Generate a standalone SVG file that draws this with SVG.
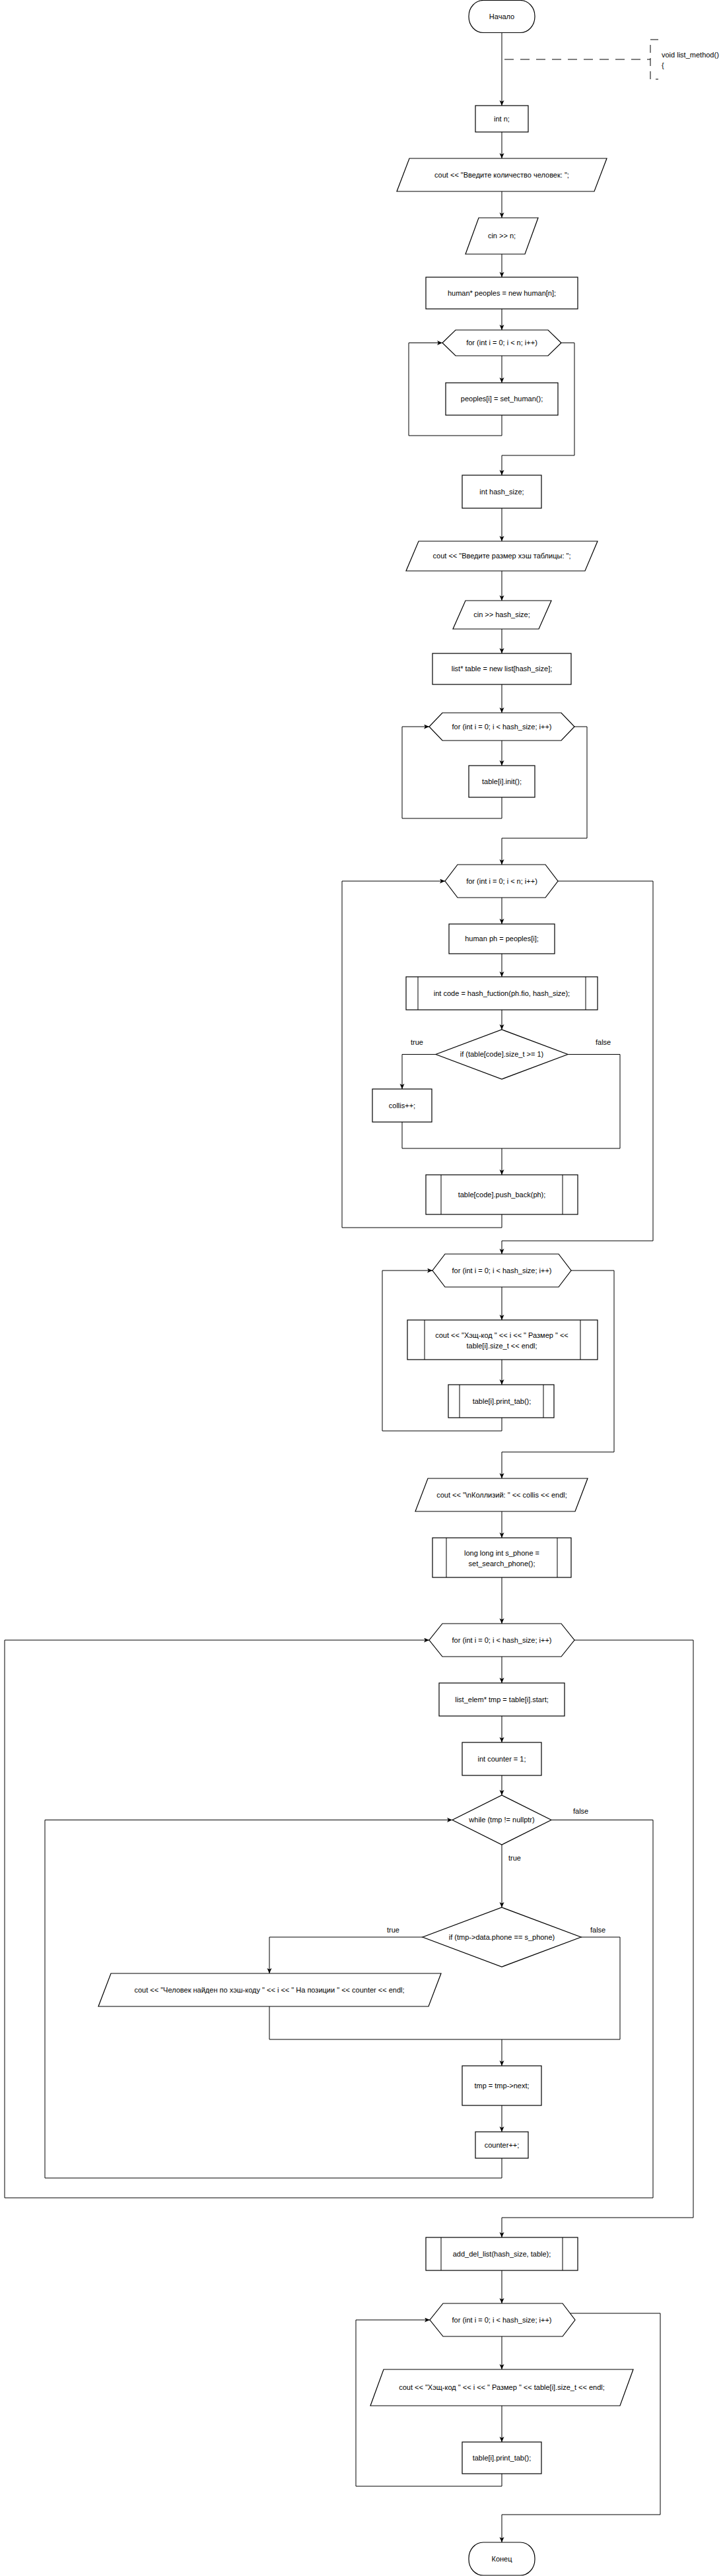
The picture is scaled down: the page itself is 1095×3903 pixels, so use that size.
<svg xmlns="http://www.w3.org/2000/svg" width="1095" height="3903" viewBox="0 0 1095 3903">
<style>
.s{fill:#fff;stroke:#000;stroke-width:1.2}
.c{fill:none;stroke:#000;stroke-width:1}
.t{font-family:"Liberation Sans",Arial,sans-serif;font-size:11px;fill:#000;text-anchor:middle}
.l{font-family:"Liberation Sans",Arial,sans-serif;font-size:11px;fill:#000}
</style>
<defs>
<marker id="a" markerUnits="userSpaceOnUse" markerWidth="10" markerHeight="10" refX="8" refY="3.5" orient="auto">
<path d="M0,0 L8,3.5 L0,7 L2,3.5 z" fill="#000"/>
</marker>
</defs>
<rect width="1095" height="3903" fill="#fff"/>
<g id="connectors">
<path class="c" d="M760,50 V160" marker-end="url(#a)"/>
<path class="c" d="M760,200 V240" marker-end="url(#a)"/>
<path class="c" d="M760,290 V330" marker-end="url(#a)"/>
<path class="c" d="M760,385 V420" marker-end="url(#a)"/>
<path class="c" d="M760,468 V500" marker-end="url(#a)"/>
<path class="c" d="M760,539 V580" marker-end="url(#a)"/>
<path class="c" d="M760,629 V660 H619 V519.5 H670" marker-end="url(#a)"/>
<path class="c" d="M850,519.5 H870 V690 H760 V720" marker-end="url(#a)"/>
<path class="c" d="M760,770 V820" marker-end="url(#a)"/>
<path class="c" d="M760,865 V910" marker-end="url(#a)"/>
<path class="c" d="M760,953 V990" marker-end="url(#a)"/>
<path class="c" d="M760,1037 V1080" marker-end="url(#a)"/>
<path class="c" d="M760,1122 V1160" marker-end="url(#a)"/>
<path class="c" d="M760,1208 V1240 H609 V1101 H650" marker-end="url(#a)"/>
<path class="c" d="M870,1101 H889 V1270 H760 V1310" marker-end="url(#a)"/>
<path class="c" d="M760,1360 V1400" marker-end="url(#a)"/>
<path class="c" d="M760,1445 V1480" marker-end="url(#a)"/>
<path class="c" d="M760,1530 V1560" marker-end="url(#a)"/>
<path class="c" d="M660,1597.5 H609 V1650" marker-end="url(#a)"/>
<path class="c" d="M860,1597.5 H939 V1740"/>
<path class="c" d="M609,1700 V1740 H939"/>
<path class="c" d="M760,1740 V1780" marker-end="url(#a)"/>
<path class="c" d="M760,1840 V1860 H518 V1335 H674" marker-end="url(#a)"/>
<path class="c" d="M845,1335 H989 V1880 H760 V1900" marker-end="url(#a)"/>
<path class="c" d="M760,1950 V2000" marker-end="url(#a)"/>
<path class="c" d="M760,2060 V2098" marker-end="url(#a)"/>
<path class="c" d="M760,2148 V2168 H579 V1925 H655" marker-end="url(#a)"/>
<path class="c" d="M865,1925 H930 V2200 H760 V2240" marker-end="url(#a)"/>
<path class="c" d="M760,2290 V2330" marker-end="url(#a)"/>
<path class="c" d="M760,2390 V2460" marker-end="url(#a)"/>
<path class="c" d="M760,2510 V2550" marker-end="url(#a)"/>
<path class="c" d="M760,2600 V2640" marker-end="url(#a)"/>
<path class="c" d="M760,2690 V2720" marker-end="url(#a)"/>
<path class="c" d="M760,2795 V2890" marker-end="url(#a)"/>
<path class="c" d="M640,2935 H408 V2990" marker-end="url(#a)"/>
<path class="c" d="M880,2935 H939 V3090"/>
<path class="c" d="M408,3040 V3090 H939"/>
<path class="c" d="M760,3090 V3130" marker-end="url(#a)"/>
<path class="c" d="M760,3190 V3230" marker-end="url(#a)"/>
<path class="c" d="M760,3270 V3300 H68 V2757.5 H685" marker-end="url(#a)"/>
<path class="c" d="M835,2757.5 H989 V3330 H7 V2485 H650" marker-end="url(#a)"/>
<path class="c" d="M870,2485 H1050 V3360 H760 V3390" marker-end="url(#a)"/>
<path class="c" d="M760,3440 V3490" marker-end="url(#a)"/>
<path class="c" d="M760,3540 V3590" marker-end="url(#a)"/>
<path class="c" d="M760,3645 V3700" marker-end="url(#a)"/>
<path class="c" d="M760,3748 V3767 H539 V3515 H651" marker-end="url(#a)"/>
<path class="c" d="M864,3505 H1000 V3810 H760 V3852" marker-end="url(#a)"/>
<text class="l" x="622" y="1583">true</text>
<text class="l" x="902" y="1583">false</text>
<text class="l" x="868" y="2748">false</text>
<text class="l" x="770" y="2819">true</text>
<text class="l" x="586" y="2928">true</text>
<text class="l" x="894" y="2928">false</text>
</g>
<g id="start"><rect class="s" x="710" y="0.5" width="100" height="49" rx="22" ry="24"/><text class="t" x="760" y="29">Начало</text></g>
<g id="note">
<path class="c" d="M764,90 H985" stroke-dasharray="14 10"/>
<path class="c" d="M997,60 H985 V120 H997" stroke-dasharray="12 8"/>
<text class="l" x="1002" y="87">void list_method()</text>
<text class="l" x="1002" y="103">{</text>
</g>
<g id="n1"><rect class="s" x="720" y="160" width="80" height="40"/><text class="t" x="760" y="184">int n;</text></g>
<g id="n2"><polygon class="s" points="620,240 919,240 900,290 601,290"/><text class="t" x="760" y="269">cout &lt;&lt; "Введите количество человек: ";</text></g>
<g id="n3"><polygon class="s" points="725,330 815,330 795,385 705,385"/><text class="t" x="760" y="361">cin &gt;&gt; n;</text></g>
<g id="n4"><rect class="s" x="645" y="420" width="230" height="48"/><text class="t" x="760" y="448">human* peoples = new human[n];</text></g>
<g id="n5"><polygon class="s" points="690,500 830,500 850,519.5 830,539 690,539 670,519.5"/><text class="t" x="760" y="523">for (int i = 0; i &lt; n; i++)</text></g>
<g id="n6"><rect class="s" x="675" y="580" width="170" height="49"/><text class="t" x="760" y="608">peoples[i] = set_human();</text></g>
<g id="n7"><rect class="s" x="700" y="720" width="120" height="50"/><text class="t" x="760" y="749">int hash_size;</text></g>
<g id="n8"><polygon class="s" points="634,820 905,820 886,865 615,865"/><text class="t" x="760" y="846">cout &lt;&lt; "Введите размер хэш таблицы: ";</text></g>
<g id="n9"><polygon class="s" points="705,910 835,910 816,953 686,953"/><text class="t" x="760" y="935">cin &gt;&gt; hash_size;</text></g>
<g id="n10"><rect class="s" x="655" y="990" width="210" height="47"/><text class="t" x="760" y="1017">list* table = new list[hash_size];</text></g>
<g id="n11"><polygon class="s" points="670,1080 850,1080 870,1101 850,1122 670,1122 650,1101"/><text class="t" x="760" y="1105">for (int i = 0; i &lt; hash_size; i++)</text></g>
<g id="n12"><rect class="s" x="710" y="1160" width="100" height="48"/><text class="t" x="760" y="1188">table[i].init();</text></g>
<g id="n13"><polygon class="s" points="693,1310 826,1310 845,1335 826,1360 693,1360 674,1335"/><text class="t" x="760" y="1339">for (int i = 0; i &lt; n; i++)</text></g>
<g id="n14"><rect class="s" x="680" y="1400" width="160" height="45"/><text class="t" x="760" y="1426">human ph = peoples[i];</text></g>
<g id="n15"><rect class="s" x="615" y="1480" width="290" height="50"/><path class="c" d="M633,1480 V1530 M887,1480 V1530"/><text class="t" x="760" y="1509">int code = hash_fuction(ph.fio, hash_size);</text></g>
<g id="n16"><polygon class="s" points="760,1560 860,1597.5 760,1635 660,1597.5"/><text class="t" x="760" y="1601">if (table[code].size_t &gt;= 1)</text></g>
<g id="n17"><rect class="s" x="564" y="1650" width="90" height="50"/><text class="t" x="609" y="1679">collis++;</text></g>
<g id="n18"><rect class="s" x="645" y="1780" width="230" height="60"/><path class="c" d="M668,1780 V1840 M852,1780 V1840"/><text class="t" x="760" y="1814">table[code].push_back(ph);</text></g>
<g id="n19"><polygon class="s" points="674,1900 846,1900 865,1925 846,1950 674,1950 655,1925"/><text class="t" x="760" y="1929">for (int i = 0; i &lt; hash_size; i++)</text></g>
<g id="n20"><rect class="s" x="617" y="2000" width="288" height="60"/><path class="c" d="M643,2000 V2060 M879,2000 V2060"/><text class="t" x="760" y="2027">cout &lt;&lt; "Хэщ-код " &lt;&lt; i &lt;&lt; " Размер " &lt;&lt;</text><text class="t" x="760" y="2043">table[i].size_t &lt;&lt; endl;</text></g>
<g id="n21"><rect class="s" x="679" y="2098" width="160" height="50"/><path class="c" d="M696,2098 V2148 M823,2098 V2148"/><text class="t" x="760" y="2127">table[i].print_tab();</text></g>
<g id="n22"><polygon class="s" points="648,2240 890,2240 871,2290 629,2290"/><text class="t" x="760" y="2269">cout &lt;&lt; "\nКоллизий: " &lt;&lt; collis &lt;&lt; endl;</text></g>
<g id="n23"><rect class="s" x="655" y="2330" width="210" height="60"/><path class="c" d="M676,2330 V2390 M844,2330 V2390"/><text class="t" x="760" y="2357">long long int s_phone =</text><text class="t" x="760" y="2373">set_search_phone();</text></g>
<g id="n24"><polygon class="s" points="670,2460 850,2460 870,2485 850,2510 670,2510 650,2485"/><text class="t" x="760" y="2489">for (int i = 0; i &lt; hash_size; i++)</text></g>
<g id="n25"><rect class="s" x="665" y="2550" width="190" height="50"/><text class="t" x="760" y="2579">list_elem* tmp = table[i].start;</text></g>
<g id="n26"><rect class="s" x="700" y="2640" width="120" height="50"/><text class="t" x="760" y="2669">int counter = 1;</text></g>
<g id="n27"><polygon class="s" points="760,2720 835,2757.5 760,2795 685,2757.5"/><text class="t" x="760" y="2761">while (tmp != nullptr)</text></g>
<g id="n28"><polygon class="s" points="760,2890 880,2935 760,2980 640,2935"/><text class="t" x="760" y="2939">if (tmp-&gt;data.phone == s_phone)</text></g>
<g id="n29"><polygon class="s" points="168,2990 668,2990 649,3040 149,3040"/><text class="t" x="408" y="3019">cout &lt;&lt; "Человек найден по хэш-коду " &lt;&lt; i &lt;&lt; " На позиции " &lt;&lt; counter &lt;&lt; endl;</text></g>
<g id="n30"><rect class="s" x="700" y="3130" width="120" height="60"/><text class="t" x="760" y="3164">tmp = tmp-&gt;next;</text></g>
<g id="n31"><rect class="s" x="720" y="3230" width="80" height="40"/><text class="t" x="760" y="3254">counter++;</text></g>
<g id="n32"><rect class="s" x="645" y="3390" width="230" height="50"/><path class="c" d="M668,3390 V3440 M852,3390 V3440"/><text class="t" x="760" y="3419">add_del_list(hash_size, table);</text></g>
<g id="n33"><polygon class="s" points="671,3490 852,3490 871,3515 852,3540 671,3540 651,3515"/><text class="t" x="760" y="3519">for (int i = 0; i &lt; hash_size; i++)</text></g>
<g id="n34"><polygon class="s" points="581,3590 959,3590 939,3645 561,3645"/><text class="t" x="760" y="3621">cout &lt;&lt; "Хэщ-код " &lt;&lt; i &lt;&lt; " Размер " &lt;&lt; table[i].size_t &lt;&lt; endl;</text></g>
<g id="n35"><rect class="s" x="700" y="3700" width="120" height="48"/><text class="t" x="760" y="3728">table[i].print_tab();</text></g>
<g id="end"><rect class="s" x="710" y="3852" width="100" height="50" rx="22" ry="24"/><text class="t" x="760" y="3881">Конец</text></g>
</svg>
